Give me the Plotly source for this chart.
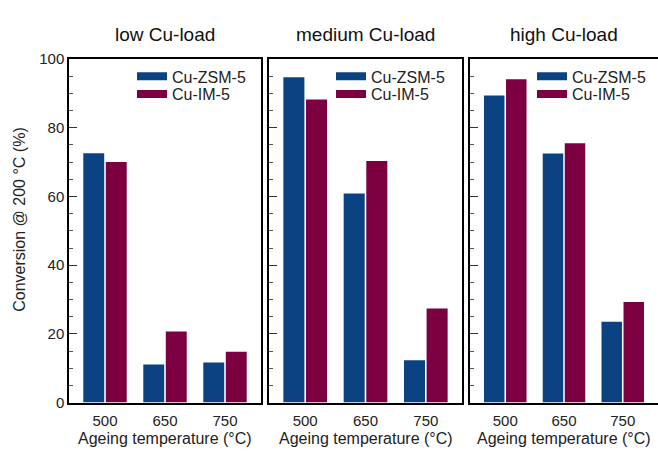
import plotly.graph_objects as go

temps = ["500", "650", "750"]
panels = ["low Cu-load", "medium Cu-load", "high Cu-load"]
zsm5 = [
    [72.6, 11.1, 11.7],
    [94.7, 60.9, 12.3],
    [89.4, 72.5, 23.5],
]
im5 = [
    [70.0, 20.7, 14.8],
    [88.2, 70.3, 27.4],
    [94.1, 75.5, 29.3],
]
series_names = ["Cu-ZSM-5", "Cu-IM-5"]
colors = ["#0b4382", "#7c0041"]

W, H = 658, 452
xdom = [(69, 261), (269, 462), (470, 658)]
ytop, ybot = 52, 409
legend_x = [132, 331, 532]
legend_rows = [70, 88.5]

font = "Liberation Sans, Arial, Helvetica, sans-serif"
fig = go.Figure()

layout = dict(
    width=W, height=H,
    margin=dict(l=0, r=0, t=0, b=0),
    paper_bgcolor="white", plot_bgcolor="white",
    barmode="group", bargap=0.25, bargroupgap=0.07,
    font=dict(family=font, size=15, color="#222"),
    showlegend=True,
)

lg_count = 0
for i in range(3):
    xa = "x" if i == 0 else f"x{i+1}"
    ya = "y" if i == 0 else f"y{i+1}"
    for j, (vals, name, col) in enumerate(zip([zsm5[i], im5[i]], series_names, colors)):
        lg_count += 1
        lg = "legend" if lg_count == 1 else f"legend{lg_count}"
        fig.add_trace(go.Bar(x=temps, y=vals, name=name, marker_color=col,
                             marker_line_width=0, xaxis=xa, yaxis=ya,
                             showlegend=False, offsetgroup=name))
        fig.add_trace(go.Scatter(x=[None], y=[None], mode="lines", name=name,
                                 line=dict(color=col, width=8), xaxis=xa, yaxis=ya,
                                 legend=lg, showlegend=True))
        layout[lg] = dict(
            x=legend_x[i] / W, xanchor="left", y=(H - legend_rows[j]) / H, yanchor="middle",
            bgcolor="rgba(0,0,0,0)", borderwidth=0, tracegroupgap=0,
            font=dict(size=16, color="#222", family=font),
        )

annotations = []
for i in range(3):
    sfx = "" if i == 0 else str(i + 1)
    x0, x1 = xdom[i]
    layout["xaxis" + sfx] = dict(
        domain=[x0 / W, x1 / W], type="category", range=[-0.6, 2.6],
        showline=True, linecolor="black", linewidth=1.5, mirror=True,
        ticks="", showgrid=False, tickfont=dict(size=15, color="#222"),
        ticklabelstandoff=4,
        anchor="y" + sfx, fixedrange=True,
    )
    layout["yaxis" + sfx] = dict(
        domain=[(H - ybot) / H, (H - ytop) / H], range=[0, 100],
        showline=True, linecolor="black", linewidth=1.5,
        mirror=(i < 2), ticks="inside", ticklen=8, tickwidth=1.2,
        tickcolor="#333", dtick=20, tick0=0, showgrid=False,
        showticklabels=(i == 0), tickfont=dict(size=15, color="#222"),
        minor=dict(ticks="inside", ticklen=4, dtick=5, tickcolor="#555", tickwidth=0.8),
        anchor="x" + sfx, fixedrange=True, zeroline=False,
    )
    annotations.append(dict(
        text=panels[i], x=(x0 + x1) / 2 / W, y=(H - 27) / H, xref="paper", yref="paper",
        showarrow=False, font=dict(size=19, color="#111"), xanchor="center", yanchor="middle",
    ))
    annotations.append(dict(
        text="Ageing temperature (°C)", x=(x0 + x1) / 2 / W, y=(H - 446) / H,
        xref="paper", yref="paper", showarrow=False,
        font=dict(size=16, color="#222"), xanchor="center", yanchor="middle",
    ))

annotations.append(dict(
    text="Conversion @ 200 °C (%)", x=20 / W, y=(H - 219) / H, xref="paper", yref="paper",
    showarrow=False, textangle=-90, font=dict(size=16, color="#222"),
    xanchor="center", yanchor="middle",
))
layout["annotations"] = annotations
fig.update_layout(**layout)
fig.write_html("out.html")
